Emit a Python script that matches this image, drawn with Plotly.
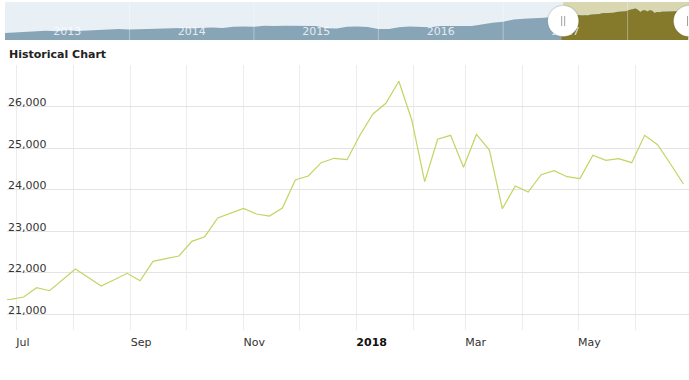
import plotly.graph_objects as go

# ---- main (weekly) series ----
main_dates = [
    "2017-06-21", "2017-06-28", "2017-07-05", "2017-07-12", "2017-07-19", "2017-07-26",
    "2017-08-02", "2017-08-09", "2017-08-16", "2017-08-23", "2017-08-30",
    "2017-09-06", "2017-09-13", "2017-09-20", "2017-09-27",
    "2017-10-04", "2017-10-11", "2017-10-18", "2017-10-25",
    "2017-11-01", "2017-11-08", "2017-11-15", "2017-11-22", "2017-11-29",
    "2017-12-06", "2017-12-13", "2017-12-20", "2017-12-27",
    "2018-01-03", "2018-01-10", "2018-01-17", "2018-01-24", "2018-01-31",
    "2018-02-07", "2018-02-14", "2018-02-21", "2018-02-28",
    "2018-03-07", "2018-03-14", "2018-03-21", "2018-03-28",
    "2018-04-04", "2018-04-11", "2018-04-18", "2018-04-25",
    "2018-05-02", "2018-05-09", "2018-05-16", "2018-05-23", "2018-05-30",
    "2018-06-06", "2018-06-13", "2018-06-20", "2018-06-27",
]
main_values = [
    21340, 21355, 21411, 21635, 21563, 21821,
    22087, 21882, 21676, 21826, 21983,
    21804, 22273, 22336, 22401,
    22756, 22867, 23319, 23435,
    23548, 23415, 23367, 23560, 24237,
    24333, 24655, 24761, 24727,
    25324, 25831, 26089, 26621, 25686,
    24196, 25220, 25316, 24543,
    25336, 24961, 23543, 24092,
    23947, 24365, 24461, 24316,
    24273, 24833, 24713, 24751, 24655,
    25316, 25089, 24623, 24140,
]

# ---- navigator history (monthly, before the selected window) ----
nav_dates = [f"{y}-{m:02d}-01" for y in range(2013, 2017) for m in range(1, 13)] + \
            ["2017-01-01", "2017-02-01", "2017-03-01", "2017-04-01", "2017-05-01"]
nav_values = [
    9800, 10100, 10600, 10800, 11300, 11000, 11600, 11100, 11400, 11800, 12200, 12600,
    12100, 12400, 12700, 12800, 13000, 13200, 13100, 13300, 13600, 13200, 14000, 14200,
    14000, 14700, 14500, 14800, 14900, 14500, 14600, 13000, 12900, 14000, 14300, 13900,
    12500, 12600, 13700, 14200, 14000, 13800, 14600, 14800, 14600, 14500, 15700, 16800,
    17500, 19000, 19500, 19700, 20300,
]

# ---- axis ticks ----
x_label_dates = ["2017-07-01", "2017-09-01", "2017-11-01", "2018-01-01", "2018-03-01", "2018-05-01"]
x_label_text = ["Jul", "Sep", "Nov", "<b style='color:#111'>2018</b>", "Mar", "May"]
y_tick_vals = [21000, 22000, 23000, 24000, 25000, 26000, 27000]
y_tick_text = ["21,000", "22,000", "23,000", "24,000", "25,000", "26,000", ""]
year_bounds = ["2014-01-01", "2015-01-01", "2016-01-01", "2017-01-01", "2018-01-01"]

view_start = "2017-06-26"
view_end = "2018-06-30"

FONT = "DejaVu Sans"
W, H = 689, 380

fig = go.Figure()

# navigator: full history area
fig.add_trace(go.Scatter(
    x=nav_dates + main_dates, y=nav_values + main_values,
    xaxis="x2", yaxis="y2", mode="lines",
    line=dict(width=0, color="#88a5b7"), fill="tozeroy", fillcolor="#88a5b7",
    hoverinfo="skip"))
# navigator: selected window
fig.add_trace(go.Scatter(
    x=main_dates, y=main_values, xaxis="x2", yaxis="y2", mode="lines",
    line=dict(width=0, color="#857a2c"), fill="tozeroy", fillcolor="#857a2c",
    hoverinfo="skip"))
# main line
fig.add_trace(go.Scatter(
    x=main_dates, y=main_values, mode="lines",
    line=dict(color="#c0d562", width=1.2)))

shapes = [
    # navigator background
    dict(type="rect", xref="x2 domain", yref="y2 domain", x0=0, x1=1, y0=0, y1=1,
         fillcolor="#e8f0f5", line_width=0, layer="below"),
    dict(type="rect", xref="x2", yref="y2 domain", x0=view_start, x1=view_end, y0=0, y1=1,
         fillcolor="#d9d6b2", line_width=0, layer="below"),
]
for d in year_bounds:
    shapes.append(dict(type="line", xref="x2", yref="y2 domain", x0=d, x1=d, y0=0, y1=1,
                       line=dict(color="rgba(255,255,255,0.35)", width=1), layer="above"))
# handles
for d in [view_start, view_end]:
    shapes.append(dict(type="circle", xref="x2", yref="y2", xsizemode="pixel", ysizemode="pixel",
                       xanchor=d, yanchor=18000, x0=-16.5, x1=16.5, y0=-16.5, y1=16.5,
                       fillcolor="rgba(0,0,0,0.06)", line_width=0, layer="above"))
    shapes.append(dict(type="circle", xref="x2", yref="y2", xsizemode="pixel", ysizemode="pixel",
                       xanchor=d, yanchor=18000, x0=-15.5, x1=15.5, y0=-15.5, y1=15.5,
                       fillcolor="white", line=dict(color="rgba(0,0,0,0.10)", width=1), layer="above"))
    for dx in (-1.5, 1.5):
        shapes.append(dict(type="line", xref="x2", yref="y2", xsizemode="pixel", ysizemode="pixel",
                           xanchor=d, yanchor=18000, x0=dx, x1=dx, y0=-5, y1=5,
                           line=dict(color="#a0a0a0", width=1), layer="above"))

annotations = [
    dict(text="<b>Historical Chart</b>", xref="paper", yref="paper",
         x=7 / W, y=(H - 54) / H, xanchor="left", yanchor="middle", showarrow=False,
         font=dict(family=FONT, size=11, color="#222")),
]
# y-axis labels sitting just above their grid lines, inside the plot
for v, t in zip(y_tick_vals, y_tick_text):
    if t:
        annotations.append(dict(text=t, xref="paper", yref="y", x=7 / W, y=v,
                                xanchor="left", yanchor="middle", yshift=4, xshift=-1,
                                showarrow=False, font=dict(family=FONT, size=11, color="#333")))

fig.update_layout(
    width=W, height=H,
    margin=dict(l=0, r=0, t=0, b=0),
    paper_bgcolor="white", plot_bgcolor="white",
    showlegend=False,
    font=dict(family=FONT, size=11, color="#333"),
    xaxis=dict(
        domain=[7 / W, 1], range=[view_start, view_end], type="date",
        tickvals=x_label_dates, ticktext=x_label_text,
        ticklabelposition="outside right", ticks="", ticklabelstandoff=4,
        showgrid=True, gridcolor="#ececec", gridwidth=1,
        minor=dict(dtick="M1", tick0="2017-07-01", showgrid=True, gridcolor="#ececec", gridwidth=1),
        zeroline=False, showline=False,
        tickfont=dict(family=FONT, size=11, color="#333"),
    ),
    yaxis=dict(
        domain=[50 / H, 315 / H], range=[20614, 27014],
        tickvals=y_tick_vals, showticklabels=False, ticks="",
        showgrid=True, gridcolor="#e4e4e4", gridwidth=1,
        zeroline=False, showline=False,
    ),
    xaxis2=dict(
        domain=[5 / W, 1], anchor="y2", range=["2013-01-01", view_end], type="date",
        dtick="M12", tick0="2013-01-01", tickformat="%Y", ticklabelmode="period",
        ticklabelposition="inside", ticks="", showgrid=False, zeroline=False, showline=False,
        tickfont=dict(family=FONT, size=11, color="rgba(255,255,255,0.8)"),
    ),
    yaxis2=dict(
        domain=[340 / H, 378 / H], anchor="x2", range=[5000, 31000], visible=False,
    ),
    shapes=shapes,
    annotations=annotations,
)

fig.write_html("out.html", config={"displayModeBar": False},
               post_script="document.body.style.margin='0';")
